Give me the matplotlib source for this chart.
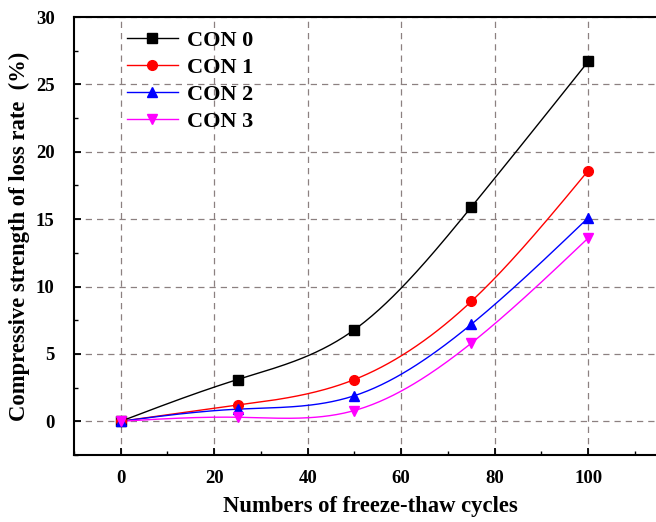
import numpy as np
import matplotlib
matplotlib.use("Agg")
import matplotlib.pyplot as plt
from matplotlib.ticker import MultipleLocator

cycles = [0, 25, 50, 75, 100]
con0 = [0.0, 3.1, 6.8, 15.9, 26.7]
con1 = [0.0, 1.2, 3.1, 8.9, 18.6]
con2 = [0.0, 0.9, 1.9, 7.2, 15.1]
con3 = [0.0, 0.3, 0.8, 5.8, 13.6]
labels = ["CON 0", "CON 1", "CON 2", "CON 3"]
colors = ["black", "#ff0000", "#0000ff", "#ff00ff"]
markers = ["s", "o", "^", "v"]


def natural_spline(x, y, n=200):
    x = np.asarray(x, float); y = np.asarray(y, float)
    m = len(x)
    h = np.diff(x)
    A = np.zeros((m, m)); b = np.zeros(m)
    A[0, 0] = 1; A[-1, -1] = 1
    for i in range(1, m - 1):
        A[i, i - 1] = h[i - 1]
        A[i, i] = 2 * (h[i - 1] + h[i])
        A[i, i + 1] = h[i]
        b[i] = 3 * ((y[i + 1] - y[i]) / h[i] - (y[i] - y[i - 1]) / h[i - 1])
    c = np.linalg.solve(A, b)
    xs = np.linspace(x[0], x[-1], n)
    ys = np.empty_like(xs)
    for k, xv in enumerate(xs):
        i = min(np.searchsorted(x, xv, side="right") - 1, m - 2)
        dx = xv - x[i]
        bi = (y[i + 1] - y[i]) / h[i] - h[i] * (2 * c[i] + c[i + 1]) / 3
        di = (c[i + 1] - c[i]) / (3 * h[i])
        ys[k] = y[i] + bi * dx + c[i] * dx ** 2 + di * dx ** 3
    return xs, ys


plt.rcParams["font.family"] = "Liberation Serif"
plt.rcParams["font.weight"] = "bold"

fig = plt.figure(figsize=(6.56, 5.22), dpi=100)
ax = fig.add_axes([0.1128, 0.1284, 0.905, 0.839])

for ys, lab, col, mk in zip([con0, con1, con2, con3], labels, colors, markers):
    sx, sy = natural_spline(cycles, ys)
    ax.plot(sx, sy, color=col, lw=1.0, zorder=3)
    ax.plot(cycles, ys, ls="none", marker=mk, color=col, ms=7, zorder=4)
    ax.plot([], [], color=col, lw=1.0, marker=mk, ms=7, label=lab)

ax.set_xlim(-10, 117)
ax.set_ylim(-2.5, 30)
ax.xaxis.set_major_locator(MultipleLocator(20))
ax.xaxis.set_minor_locator(MultipleLocator(10))
ax.yaxis.set_major_locator(MultipleLocator(5))
ax.yaxis.set_minor_locator(MultipleLocator(2.5))
ax.tick_params(which="major", direction="in", length=5, width=1.3, labelsize=13.5)
ax.tick_params(axis="y", which="major", pad=14)
ax.tick_params(axis="x", which="major", pad=11)
ax.tick_params(which="minor", direction="in", length=3, width=1.0)
ax.grid(True, which="major", color="#8c8080", ls=(0, (5, 4)), lw=0.9)
for s in ax.spines.values():
    s.set_linewidth(1.5)
ax.spines["right"].set_visible(False)

ax.set_xlabel("Numbers of freeze-thaw cycles", fontsize=16.3, fontweight="bold", labelpad=6)
ax.set_ylabel("Compressive strength of loss rate  (%)", fontsize=16.3, fontweight="bold", labelpad=4)

leg = ax.legend(loc="upper left", bbox_to_anchor=(0.055, 1.016), frameon=False,
                handlelength=2.3, labelspacing=0.3, handletextpad=0.4,
                prop={"weight": "bold", "size": 16})

fig.savefig("out.png", dpi=100)
